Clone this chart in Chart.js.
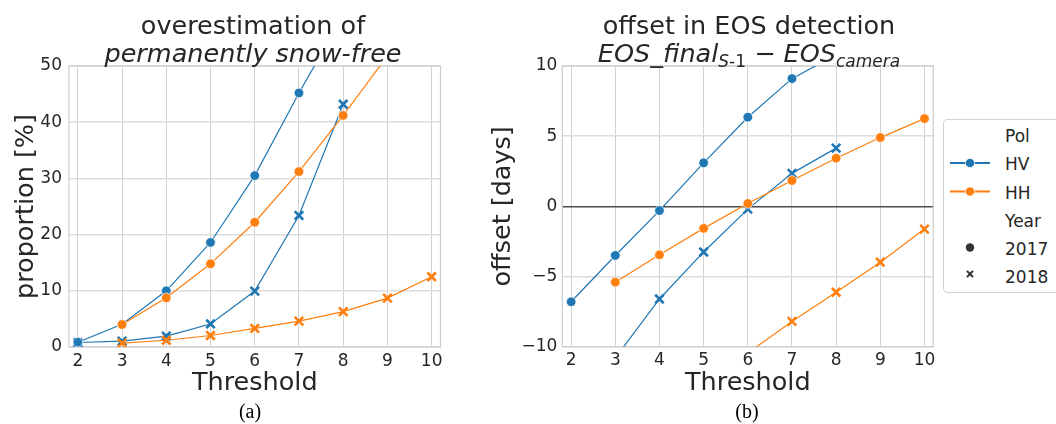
<!DOCTYPE html>
<html>
<head>
<meta charset="utf-8">
<script src="https://cdn.jsdelivr.net/npm/chart.js@4.4.1/dist/chart.umd.min.js"></script>
<style>
  html, body { margin:0; padding:0; background:#fff; }
  body { width:1056px; height:424px; position:relative; overflow:hidden; font-family:"DejaVu Sans", sans-serif; color:#262626; }
  canvas { position:absolute; top:0; }
  .title { position:absolute; top:10.7px; width:500px; text-align:center; font-size:25.5px; line-height:28px; white-space:nowrap; color:#262626; }
  .title i { font-style:italic; }
  .sub { font-size:17px; vertical-align:-5px; line-height:0; }
  .cap { position:absolute; top:400px; width:60px; text-align:center; font-family:"Liberation Serif", serif; font-size:20px; color:#000; }
  #legend { position:absolute; left:943px; top:119px; width:130px; height:174px; border:1px solid #d4d4d4; border-radius:4px; box-sizing:border-box; background:#fff; }
  .lg { position:absolute; left:61px; font-size:17px; line-height:20px; color:#262626; white-space:nowrap; }
</style>
</head>
<body>
<canvas id="c1" width="470" height="424" style="left:0px"></canvas>
<canvas id="c2" width="586" height="424" style="left:470px"></canvas>

<div class="title" style="left:3px">overestimation of<br><i>permanently snow-free</i></div>
<div class="title" style="left:499px">offset in EOS detection<br><i>EOS_final</i><span class="sub"><i>S</i>-1</span> &#8722; <i>EOS</i><span class="sub"><i>camera</i></span></div>

<div class="cap" style="left:220px">(a)</div>
<div class="cap" style="left:717px">(b)</div>

<div id="legend">
  <svg width="130" height="174" style="position:absolute;left:-1px;top:-1px">
    <line x1="7" y1="44" x2="47" y2="44" stroke="#1f77b4" stroke-width="1.8"/>
    <circle cx="27" cy="44" r="4.6" fill="#1f77b4" stroke="#fff" stroke-width="0.7"/>
    <line x1="7" y1="72.5" x2="47" y2="72.5" stroke="#ff7f0e" stroke-width="1.8"/>
    <circle cx="27" cy="72.5" r="4.6" fill="#ff7f0e" stroke="#fff" stroke-width="0.7"/>
    <circle cx="27" cy="128.5" r="4.2" fill="#333"/>
    <path d="M23.2,152.6 L24.6,151.2 L27,153.6 L29.4,151.2 L30.8,152.6 L28.4,155 L30.8,157.4 L29.4,158.8 L27,156.4 L24.6,158.8 L23.2,157.4 L25.6,155 Z" fill="#333"/>
  </svg>
  <div class="lg" style="top:6px">Pol</div>
  <div class="lg" style="top:34px">HV</div>
  <div class="lg" style="top:62.5px">HH</div>
  <div class="lg" style="top:91px">Year</div>
  <div class="lg" style="top:118.5px">2017</div>
  <div class="lg" style="top:146.5px">2018</div>
</div>

<script>
// ---------------- data ----------------
const thresholds = [2, 3, 4, 5, 6, 7, 8, 9, 10];

// (a) overestimation of permanently snow-free, proportion [%]
const propHV2017 = [0.85, 4.05, 10.0, 18.6, 30.5, 45.2, 59.0, null, null];
const propHV2018 = [0.8, 1.05, 1.95, 4.1, 9.95, 23.4, 43.2, null, null];
const propHH2017 = [null, 4.0, 8.75, 14.8, 22.2, 31.2, 41.2, 51.8, null];
const propHH2018 = [null, 0.7, 1.2, 2.05, 3.3, 4.6, 6.3, 8.7, 12.5];

// (b) offset in EOS detection [days]
const offHV2017 = [-6.8, -3.5, -0.3, 3.1, 6.35, 9.1, 10.8, null, null];
const offHV2018 = [null, -10.8, -6.6, -3.25, -0.2, 2.35, 4.15, null, null];
const offHH2017 = [null, -5.4, -3.45, -1.57, 0.2, 1.84, 3.43, 4.9, 6.25];
const offHH2018 = [null, null, null, null, -10.45, -8.2, -6.12, -3.98, -1.62];

const xTicks = [2, 3, 4, 5, 6, 7, 8, 9, 10];
const yTicksA = [0, 10, 20, 30, 40, 50];
const yTicksB = [-10, -5, 0, 5, 10];

// ---------------- helpers ----------------
const BLUE = '#1f77b4', ORANGE = '#ff7f0e';
const TXT = '#262626';
const FONT = '"DejaVu Sans", sans-serif';

function pts(vals) {
  const out = [];
  vals.forEach((v, i) => { if (v !== null) out.push({x: thresholds[i], y: v}); });
  return out;
}
function ds(vals, color, marker, order) {
  const isX = marker === 'x';
  return {
    data: pts(vals),
    borderColor: color,
    backgroundColor: color,
    borderWidth: 1.2,
    tension: 0,
    pointStyle: isX ? 'crossRot' : 'circle',
    pointRadius: isX ? 6 : 4.8,
    pointBorderWidth: isX ? 2.6 : 0.7,
    pointBorderColor: isX ? color : '#ffffff',
    pointBackgroundColor: color,
    order: order
  };
}
const frame = {
  id: 'frame',
  beforeDatasetsDraw(chart) {
    const {ctx, chartArea: a} = chart;
    ctx.save();
    ctx.strokeStyle = '#cfcfcf';
    ctx.lineWidth = 1.25;
    ctx.strokeRect(a.left, a.top, a.right - a.left, a.bottom - a.top);
    ctx.restore();
  }
};
function fixTicks(list) {
  return (scale) => { scale.ticks = list.map(v => ({value: v})); };
}
function makeChart(id, datasets, opt) {
  return new Chart(document.getElementById(id), {
    type: 'line',
    data: {datasets},
    plugins: [frame],
    options: {
      responsive: false,
      animation: false,
      devicePixelRatio: 1,
      layout: {padding: {top: 66, right: opt.padRight, left: 0, bottom: 0}},
      plugins: {legend: {display: false}, tooltip: {enabled: false}, title: {display: false}},
      scales: {
        x: {
          type: 'linear', min: 1.8, max: 10.2,
          afterBuildTicks: fixTicks(xTicks),
          afterFit: (s) => { s.height = opt.xHeight; },
          grid: {color: '#d2d2d2', lineWidth: 1, drawTicks: false},
          border: {display: false},
          ticks: {color: TXT, font: {family: FONT, size: 17}, padding: 4, maxRotation: 0, autoSkip: false},
          title: {display: true, text: 'Threshold', color: TXT, font: {family: FONT, size: 25.5}, padding: {top: 0, bottom: 25}}
        },
        y: {
          type: 'linear', min: opt.ymin, max: opt.ymax,
          afterBuildTicks: fixTicks(opt.yTicks),
          afterFit: (s) => { s.width = opt.yWidth; },
          grid: {
            color: (c) => (opt.zero && c.tick && c.tick.value === 0) ? '#4a4a4a' : '#dcdcdc',
            lineWidth: (c) => (opt.zero && c.tick && c.tick.value === 0) ? 1.5 : 1.5,
            drawTicks: false
          },
          border: {display: false},
          ticks: {
            color: TXT, font: {family: FONT, size: 17}, padding: opt.tickPad,
            callback: (v) => String(v).replace('-', '\u2212')
          },
          title: {display: true, text: opt.ytitle, color: TXT, font: {family: FONT, size: 25.5}, padding: {top: opt.yTitlePad, bottom: 0}}
        }
      }
    }
  });
}

makeChart('c1', [
  ds(propHV2017, BLUE, 'o', 2),
  ds(propHV2018, BLUE, 'x', 2),
  ds(propHH2017, ORANGE, 'o', 1),
  ds(propHH2018, ORANGE, 'x', 1)
], {padRight: 29.5, xHeight: 77, yWidth: 69, ymin: 0, ymax: 50, yTicks: yTicksA,
    ytitle: 'proportion [%]', yTitlePad: 10.6, tickPad: 7, zero: false});

makeChart('c2', [
  ds(offHV2017, BLUE, 'o', 2),
  ds(offHV2018, BLUE, 'x', 2),
  ds(offHH2017, ORANGE, 'o', 1),
  ds(offHH2018, ORANGE, 'x', 1)
], {padRight: 122.7, xHeight: 77.3, yWidth: 92.3, ymin: -10, ymax: 10, yTicks: yTicksB,
    ytitle: 'offset [days]', yTitlePad: 17.7, tickPad: 5, zero: true});
</script>
</body>
</html>
